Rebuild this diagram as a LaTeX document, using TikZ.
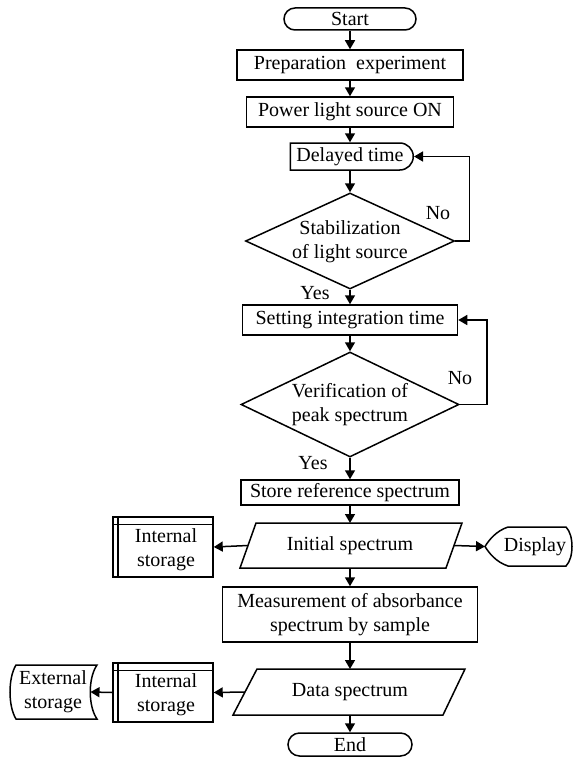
\documentclass[tikz,border=0pt]{standalone}
\usepackage{fontspec}
\setmainfont{Liberation Serif}
\usetikzlibrary{shapes.geometric,shapes.misc,arrows.meta,calc}
\begin{document}
\begin{tikzpicture}[x=1pt,y=-1pt,
  every node/.style={font=\fontsize{20}{24}\selectfont, inner sep=0pt, align=center},
  lw/.style={line width=1.5pt},
  box/.style={draw, lw, rectangle, minimum height=30pt},
  term/.style={draw, lw, rounded rectangle, minimum height=23pt},
  dec/.style={draw, lw, diamond},
  arr/.style={lw, -{Triangle[length=9pt,width=10pt]}},
  store/.style={draw, lw, rectangle, minimum width=100pt}]
\useasboundingbox (0,0) rectangle (573,760);

% main column
\node[term, minimum width=132pt, minimum height=22pt] (start) at (350,19) {Start};
\node[box, minimum width=226pt] (prep) at (350,65) {Preparation~ experiment};
\node[box, minimum width=207pt] (power) at (350,112) {Power light source ON};
\node[draw, lw, rounded rectangle, rounded rectangle left arc=none,
      minimum width=123pt, minimum height=27pt] (delay) at (350,156.5) {Delayed time};
\node[dec, minimum width=209pt, minimum height=96pt] (stab) at (350,241) {};
\node (stabt) at (350,242) {Stabilization\\of light source};
\node[box, minimum width=215pt] (setint) at (350,320) {Setting integration time};
\node[dec, minimum width=218pt, minimum height=105pt] (verif) at (350,404.5) {};
\node (veriftx) at (350,405) {Verification of\\peak spectrum};
\node[box, minimum width=218pt, minimum height=25pt] (storeref) at (350,492.5) {Store reference spectrum};

% initial spectrum (parallelogram)
\node (init) at (350,545.5) {Initial spectrum};
\draw[lw] (256,523) -- (462,523) -- (446,568) -- (240,568) -- cycle;
\coordinate (initn) at (350,523);
\coordinate (inits) at (350,568);
\coordinate (initw) at (248,545.5);
\coordinate (inite) at (454,545.5);

% display
\node (disp) at (535,546.5) {Display};
\draw[lw] (508,527) -- (566,527) .. controls (574,535) and (574,558) .. (566,566)
  -- (508,566) .. controls (496,562) and (489,553) .. (485,546.5)
  .. controls (489,540) and (496,531) .. (508,527) -- cycle;
\coordinate (dispw) at (485,546.5);

% internal storage 1
\node[store, minimum height=60pt] (int1) at (163,547) {};
\draw[lw] ($(int1.north west)+(5.5,0)$) -- ($(int1.south west)+(5.5,0)$);
\draw[lw] ($(int1.north west)+(0,8)$) -- ($(int1.north east)+(0,8)$);
\node (int1t) at (166,550) {Internal\\storage};

% measurement
\node[box, minimum width=255pt, minimum height=55pt] (meas) at (350,614.5) {Measurement of absorbance\\spectrum by sample};

% data spectrum (parallelogram)
\node (data) at (350,692) {Data spectrum};
\draw[lw] (257,669) -- (465,669) -- (443,715) -- (233,715) -- cycle;
\coordinate (datan) at (350,669);
\coordinate (datas) at (350,715);
\coordinate (dataw) at (245,692);

% internal storage 2
\node[store, minimum height=59pt] (int2) at (163,692.5) {};
\draw[lw] ($(int2.north west)+(5.5,0)$) -- ($(int2.south west)+(5.5,0)$);
\draw[lw] ($(int2.north west)+(0,8)$) -- ($(int2.north east)+(0,8)$);
\node (int2t) at (166,695) {Internal\\storage};

% external storage
\node (ext) at (53,692) {External\\storage};
\draw[lw] (16,665) -- (97,665) .. controls (88,678) and (88,706) .. (97,719)
  -- (16,719) .. controls (8,706) and (8,678) .. (16,665) -- cycle;
\coordinate (exte) at (90.5,692);

% end
\node[term, minimum width=124pt] (end) at (350,744.5) {End};

% connectors
\draw[arr] (start.south) -- (prep.north);
\draw[arr] (prep.south) -- (power.north);
\draw[arr] (power.south) -- (delay.north);
\draw[arr] (delay.south) -- (stab.north);
\draw[arr] (stab.south) -- (setint.north);
\draw[arr] (setint.south) -- (verif.north);
\draw[arr] (verif.south) -- (storeref.north);
\draw[arr] (storeref.south) -- (initn);
\draw[arr] (inits) -- (meas.north);
\draw[arr] (meas.south) -- (datan);
\draw[arr] (datas) -- (end.north);
\draw[arr] (initw) -- (int1.east);
\draw[arr] (inite) -- (dispw);
\draw[arr] (dataw) -- (int2.east);
\draw[arr] (int2.west) -- (exte);
\draw[arr] (stab.east) -- ++(14,0) |- (delay.east);
\draw[arr] (verif.east) -- ++(27,0) |- (setint.east);

% labels
\node (no1) at (438,213) {No};
\node (yes1) at (315,293) {Yes};
\node (no2) at (460,378) {No};
\node (yes2) at (313,463) {Yes};
\end{tikzpicture}
\end{document}
